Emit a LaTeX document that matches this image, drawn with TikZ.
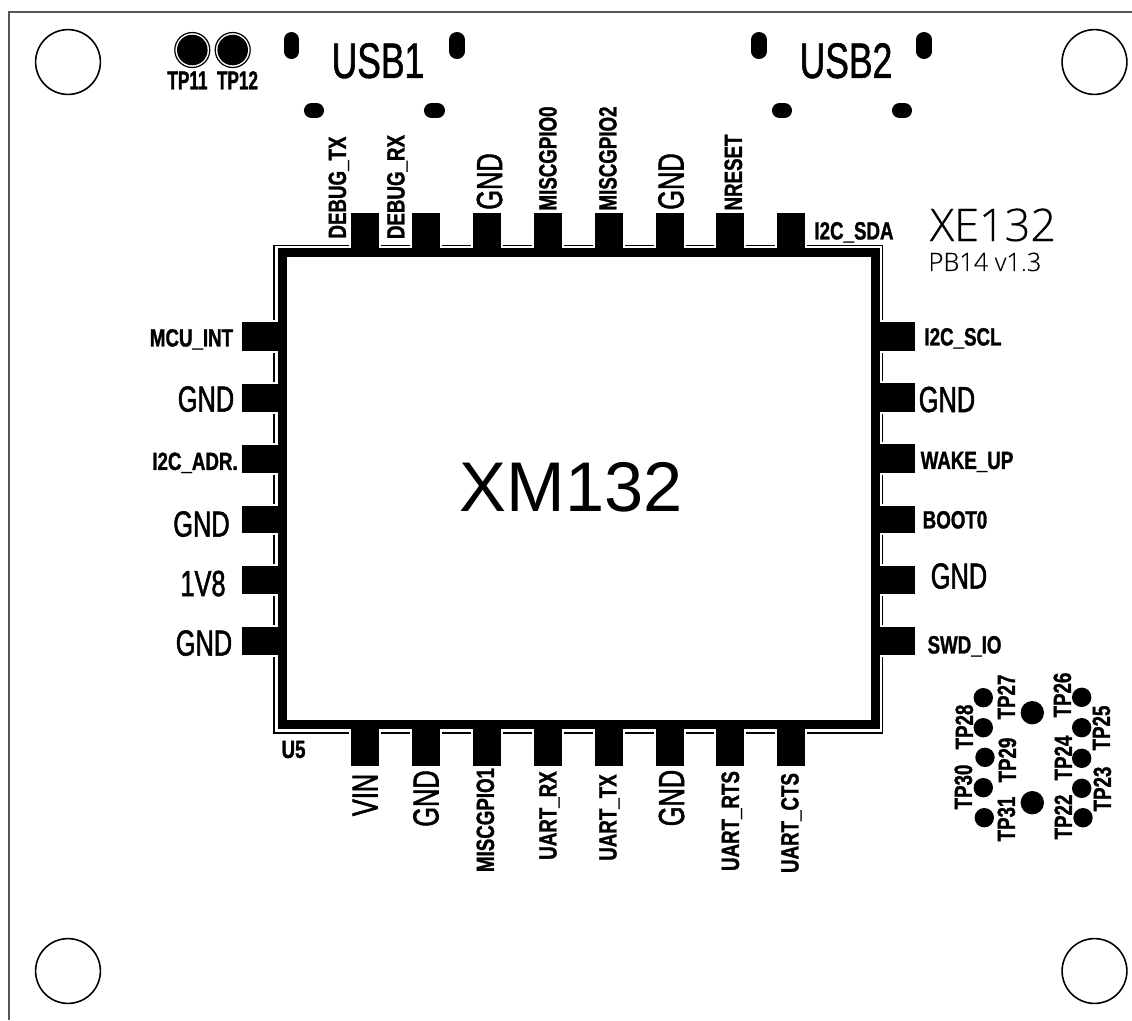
\documentclass[tikz,border=0pt]{standalone}
\usepackage{fontspec}
\setmainfont{Liberation Sans}
\newfontfamily\pcbsmall[FakeStretch=0.75,FakeBold=1.2]{Liberation Sans Bold}
\newfontfamily\pcbtp[FakeStretch=0.66,FakeBold=1.2]{Liberation Sans Bold}
\newfontfamily\pcbmid[FakeStretch=0.70,FakeBold=1.5]{Liberation Sans}
\newfontfamily\pcblarge[FakeStretch=0.71,FakeBold=1.2]{Liberation Sans}
\newfontfamily\pcbname[FakeBold=0.3]{Open Sans Light}
\usepackage{xcolor}
\definecolor{edgegray}{HTML}{555555}
\tikzset{
	txt/.style = {inner sep = 0pt, text depth = 0pt},
	sig/.style = {txt, text height = 5.1pt, font = \pcbsmall\fontsize{7.1}{8}\selectfont},
	sigbig/.style = {txt, text height = 7.4pt, font = \pcbmid\fontsize{10.3}{11}\selectfont},
	tptxt/.style = {txt, text height = 5.3pt, font = \pcbtp\fontsize{7.4}{8}\selectfont},
	usbtxt/.style = {txt, text height = 10.2pt, font = \pcblarge\fontsize{14.2}{15}\selectfont},
	up/.style = {rotate = 90},
	pad/.style = {fill = black, preaction = {draw = white, line width = 1.6pt}},
	mhole/.style = {draw = black, line width = 0.45pt},
	tpdot/.style = {fill = black},
	tpring/.style = {draw = black, line width = 0.35pt},
	usbslot/.style = {line width = 4.27pt, line cap = round}
}

\begin{document}
\begin{tikzpicture}[x = 0.01cm, y = -0.01cm]
	\useasboundingbox (0, 0) rectangle (1132, 1020);
	\fill[white] (0, 0) rectangle (1132, 1020);
	% board edge
	\draw[edgegray, line width = 0.6pt] (9, 1020) -- (9, 12) -- (1132, 12);
	% mounting holes
	\draw[mhole] (68, 62) circle (32.4);
	\draw[mhole] (1094.5, 62) circle (32.4);
	\draw[mhole] (68, 971) circle (32.4);
	\draw[mhole] (1094.5, 971) circle (32.4);
	% TP11 TP12
	\draw[tpring] (192.3, 50) circle (17.5);
	\draw[tpring] (232.7, 50) circle (17.5);
	\fill[tpdot] (192.3, 50) circle (15.3);
	\fill[tpdot] (232.7, 50) circle (15.3);
	\draw (187.5, 80) node[tptxt] (lbltpa) {TP11};
	\draw (237.5, 80) node[tptxt] (lbltpb) {TP12};
	% USB1
	\draw[usbslot] (291.5, 39.5) -- (291.5, 51.5);
	\draw[usbslot] (457, 39.5) -- (457, 51.5);
	\draw[usbslot] (311.5, 110.5) -- (316.5, 110.5);
	\draw[usbslot] (431.5, 110.5) -- (437.5, 110.5);
	\draw (378, 60) node[usbtxt] (lblusba) {USB1};
	% USB2
	\draw[usbslot] (759, 39.5) -- (759, 51.5);
	\draw[usbslot] (924, 39.5) -- (924, 51.5);
	\draw[usbslot] (779.5, 110.5) -- (784.5, 110.5);
	\draw[usbslot] (899.5, 110.5) -- (904.5, 110.5);
	\draw (846, 60) node[usbtxt] (lblusbb) {USB2};
	% module keepout
	\draw[black, line width = 0.42pt] (274, 245.5) rectangle (882.5, 733);
	% pads top
	\draw[pad] (352, 214) rectangle (378, 250);
	\draw[pad] (413, 214) rectangle (439, 250);
	\draw[pad] (473.5, 214) rectangle (500, 250);
	\draw[pad] (534.5, 214) rectangle (561, 250);
	\draw[pad] (596, 214) rectangle (622, 250);
	\draw[pad] (657, 214) rectangle (683, 250);
	\draw[pad] (717, 214) rectangle (743, 250);
	\draw[pad] (778, 214) rectangle (804, 250);
	% pads bottom
	\draw[pad] (352, 726) rectangle (378, 765);
	\draw[pad] (413, 726) rectangle (439, 765);
	\draw[pad] (473.5, 726) rectangle (500, 765);
	\draw[pad] (534.5, 726) rectangle (561, 765);
	\draw[pad] (596, 726) rectangle (622, 765);
	\draw[pad] (656.5, 726) rectangle (683, 765);
	\draw[pad] (717, 726) rectangle (743, 765);
	\draw[pad] (778, 726) rectangle (804, 765);
	% pads left
	\draw[pad] (243, 323) rectangle (282, 350);
	\draw[pad] (243, 385) rectangle (282, 411);
	\draw[pad] (243, 446) rectangle (282, 472);
	\draw[pad] (243, 507) rectangle (282, 532);
	\draw[pad] (243, 567) rectangle (282, 593);
	\draw[pad] (243, 628) rectangle (282, 654);
	% pads right
	\draw[pad] (875, 323) rectangle (914, 350);
	\draw[pad] (875, 384) rectangle (914, 411);
	\draw[pad] (875, 445) rectangle (914, 472);
	\draw[pad] (875, 507) rectangle (914, 532);
	\draw[pad] (875, 567) rectangle (914, 593);
	\draw[pad] (875, 628) rectangle (914, 654);
	% module body
	\draw[black, line width = 2.56pt] (282.5, 252.5) rectangle (875.5, 724.5);
	\draw (571, 486) node[txt, text height = 14.7pt, font = \fontsize{20}{22}\selectfont] (lblmodule) {XM132};
	\draw (293.5, 749) node[sig] (lblrefdes) {U5};
	% top labels
	\draw (337, 187.5) node[sig, up] (lbldebugtx) {DEBUG\_TX};
	\draw (395.5, 187) node[sig, up] (lbldebugrx) {DEBUG\_RX};
	\draw (489, 181.5) node[sigbig, up] (lblgndta) {GND};
	\draw (547.5, 158.5) node[sig, up] (lblmiscz) {MISCGPIO0};
	\draw (607.5, 158.5) node[sig, up] (lblmisct) {MISCGPIO2};
	\draw (670.5, 181.5) node[sigbig, up] (lblgndtb) {GND};
	\draw (733, 172.5) node[sig, up] (lblnreset) {NRESET};
	\draw (854, 230.5) node[sig] (lblsda) {I2C\_SDA};
	% bottom labels
	\draw (364.5, 795) node[sigbig, up] (lblvin) {VIN};
	\draw (425.5, 798.5) node[sigbig, up] (lblgndba) {GND};
	\draw (485, 820) node[sig, up] (lblmisco) {MISCGPIO1};
	\draw (547.5, 815.5) node[sig, up] (lbluartrx) {UART\_RX};
	\draw (607.5, 817.5) node[sig, up] (lbluarttx) {UART\_TX};
	\draw (671, 798) node[sigbig, up] (lblgndbb) {GND};
	\draw (730, 821) node[sig, up] (lbluartrts) {UART\_RTS};
	\draw (789.5, 823) node[sig, up] (lbluartcts) {UART\_CTS};
	% left labels
	\draw (191.5, 337.5) node[sig] (lblmcuint) {MCU\_INT};
	\draw (206, 398.5) node[sigbig] (lblgndla) {GND};
	\draw (195, 461) node[sig] (lbladr) {I2C\_ADR.};
	\draw (201.5, 523.5) node[sigbig] (lblgndlb) {GND};
	\draw (203, 583) node[sigbig] (lblovr) {1V8};
	\draw (204, 642.5) node[sigbig] (lblgndlc) {GND};
	% right labels
	\draw (963, 336.5) node[sig] (lblscl) {I2C\_SCL};
	\draw (947, 399) node[sigbig] (lblgndra) {GND};
	\draw (967, 460) node[sig] (lblwake) {WAKE\_UP};
	\draw (955, 519.5) node[sig] (lblboot) {BOOT0};
	\draw (959, 575.5) node[sigbig] (lblgndrb) {GND};
	\draw (964.5, 644.5) node[sig] (lblswd) {SWD\_IO};
	% board name
	\draw (993, 225) node[txt, text height = 9.1pt, font = \pcbname\fontsize{12.8}{14}\selectfont] (lblboard) {XE132};
	\draw (985, 262) node[txt, text height = 5.1pt, font = \pcbname\fontsize{7.2}{8}\selectfont] (lblrev) {PB14 v1.3};
	% test points
	\fill[tpdot] (983.3, 697.7) circle (9.7);
	\fill[tpdot] (983.3, 727.7) circle (9.7);
	\fill[tpdot] (985, 757.3) circle (9.7);
	\fill[tpdot] (983.3, 787.7) circle (9.7);
	\fill[tpdot] (984.3, 817.7) circle (9.7);
	\fill[tpdot] (1081.7, 697.3) circle (9.7);
	\fill[tpdot] (1081.7, 727.7) circle (9.7);
	\fill[tpdot] (1081.7, 758.3) circle (9.7);
	\fill[tpdot] (1081.7, 788.3) circle (9.7);
	\fill[tpdot] (1083, 817.7) circle (9.7);
	\fill[tpdot] (1032.3, 712.7) circle (11.7);
	\fill[tpdot] (1032.3, 802.7) circle (11.7);
	\draw (1006, 697) node[sig, up] (lbltpgg) {TP27};
	\draw (964, 727) node[sig, up] (lbltpgh) {TP28};
	\draw (1007, 760) node[sig, up] (lbltpgi) {TP29};
	\draw (963, 787) node[sig, up] (lbltpha) {TP30};
	\draw (1006, 819) node[sig, up] (lbltphb) {TP31};
	\draw (1062, 695) node[sig, up] (lbltpgf) {TP26};
	\draw (1101, 728) node[sig, up] (lbltpge) {TP25};
	\draw (1063, 758) node[sig, up] (lbltpgd) {TP24};
	\draw (1102, 789) node[sig, up] (lbltpgc) {TP23};
	\draw (1063, 817) node[sig, up] (lbltpgb) {TP22};
\end{tikzpicture}
\end{document}
